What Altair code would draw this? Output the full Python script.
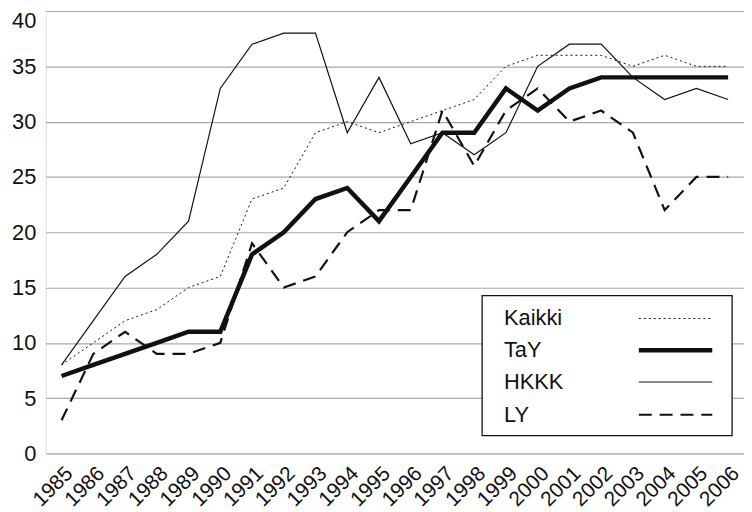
import altair as alt
import pandas as pd

years = [str(y) for y in range(1985, 2007)]
series_names = ["Kaikki", "TaY", "HKKK", "LY"]
kaikki = [8, 10, 12, 13, 15, 16, 23, 24, 29, 30, 29, 30, 31, 32, 35, 36, 36, 36, 35, 36, 35, 35]
tay = [7, 8, 9, 10, 11, 11, 18, 20, 23, 24, 21, 25, 29, 29, 33, 31, 33, 34, 34, 34, 34, 34]
hkkk = [8, 12, 16, 18, 21, 33, 37, 38, 38, 29, 34, 28, 29, 27, 29, 35, 37, 37, 34, 32, 33, 32]
ly = [3, 9, 11, 9, 9, 10, 19, 15, 16, 20, 22, 22, 31, 26, 31, 33, 30, 31, 29, 22, 25, 25]
y_ticks = [0, 5, 10, 15, 20, 25, 30, 35, 40]

# styles
dashes = [[2, 3], [1, 0], [1, 0], [13, 8]]
widths = [1.0, 4.5, 1.2, 2.2]
FONT = "Liberation Sans"
INK = "#111111"

W, H = 704, 446

x_enc = alt.X("year:O", sort=years, title=None,
              scale=alt.Scale(padding=0.5),
              axis=alt.Axis(labelAngle=-45, tickSize=0, labelPadding=9,
                            domain=False, grid=False, labelFontSize=21,
                            labelColor=INK, labelFont=FONT))
y_enc = alt.Y("value:Q", title=None,
              scale=alt.Scale(domain=[0, 40], nice=False, zero=True),
              axis=alt.Axis(values=y_ticks, tickSize=0, labelPadding=10, domain=False,
                            grid=True, gridColor="#a8a8a8", gridWidth=1.2,
                            labelFontSize=22, labelColor=INK, labelFont=FONT,
                            labelBaseline={"condition": {"test": "datum.value == 40", "value": "top"},
                                           "value": "middle"}))

line_layers = []
for i, (name, vals) in enumerate(zip(series_names, [kaikki, tay, hkkk, ly])):
    d = pd.DataFrame({"year": years, "value": vals, "series": name})
    dash_kw = {} if dashes[i] == [1, 0] else {"strokeDash": dashes[i]}
    line_layers.append(
        alt.Chart(d).mark_line(color=INK, strokeWidth=widths[i], strokeCap="butt",
                               strokeJoin="miter", **dash_kw).encode(
            x=x_enc, y=y_enc, order=alt.Order("year:O")))

one = pd.DataFrame({"k": [0]})

# legend box (pixel layout relative to plot area)
LX0, LX1, LY0, LY1 = 440, 692, 287, 428
TX = 462
SX0, SX1 = 598, 672
row_y = [310, 342, 374, 407]

box = alt.Chart(one).mark_rect(fill="white", stroke=INK, strokeWidth=1.3).encode(
    x=alt.value(LX0), x2=alt.value(LX1), y=alt.value(LY0), y2=alt.value(LY1))

legend_layers = [box]
for i, name in enumerate(series_names):
    legend_layers.append(
        alt.Chart(one).mark_text(align="left", baseline="middle", font=FONT, fontSize=22, color=INK).encode(
            x=alt.value(TX), y=alt.value(row_y[i]), text=alt.value(name)))
    dash_kw = {} if dashes[i] == [1, 0] else {"strokeDash": dashes[i]}
    legend_layers.append(
        alt.Chart(one).mark_rule(color=INK, strokeWidth=widths[i], strokeCap="butt", **dash_kw).encode(
            x=alt.value(SX0), x2=alt.value(SX1), y=alt.value(row_y[i])))

chart = alt.layer(*line_layers, *legend_layers).properties(
    width=W, height=H, padding={"left": 3, "top": 0, "right": 0, "bottom": 0}
).configure_view(stroke=INK, strokeWidth=1.3).configure(background="white")

chart.save("out.html", embed_options={"renderer": "svg", "actions": False})
